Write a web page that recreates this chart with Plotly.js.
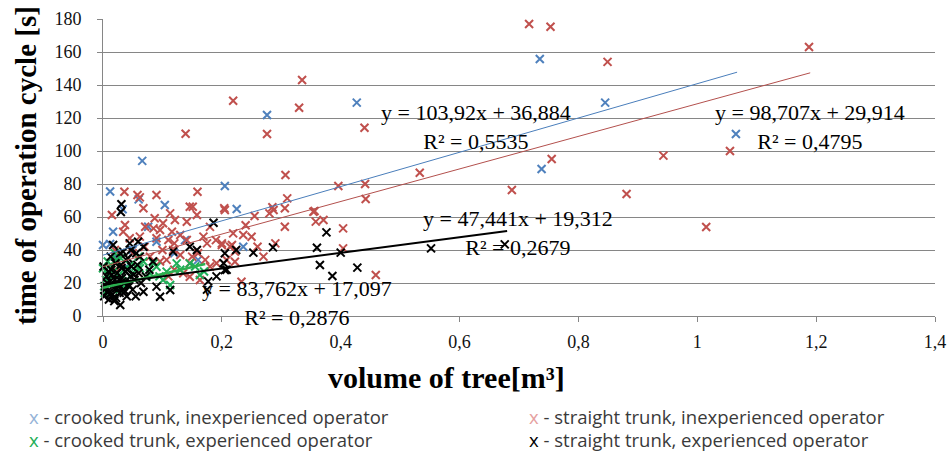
<!DOCTYPE html>
<html>
<head>
<meta charset="utf-8">
<script src="https://cdn.plot.ly/plotly-3.0.1.min.js"></script>
<style>html,body{margin:0;padding:0;background:#fff;}#chart{width:952px;height:452px;}</style>
</head>
<body>
<div id="chart"></div>
<script>
// crooked trunk, inexperienced operator (blue)
const blueX = [0.012,0.066,0.276,0.427,0.735,0.845,0.738,1.065,0.205,0.060,0.104,0.033,0.225,0.236,0.017,0.000,0.076,0.138,0.160,0.012,0.020,0.040,0.050,0.090,0.120];
const blueY = [75.5,94,121.8,129.3,155.8,129.3,89.1,110.3,78.8,70.7,67.3,64.7,64.8,42,51.1,43,54.1,46,34,43.6,36,30,40,45,38];

// straight trunk, inexperienced operator (red)
const redX = [0.139,0.219,0.276,0.335,0.330,0.307,0.440,0.533,0.717,0.753,0.849,0.755,0.943,1.188,1.055,0.881,1.015,0.688,0.459,0.404,0.404,0.442,0.441,0.396,0.354,0.358,0.371,0.306,0.306,0.310,0.285,0.204,0.255,0.280,0.287,0.356,0.233,0.219,0.236,0.200,0.217,0.208,0.222,
  0.036,0.058,0.062,0.090,0.159,0.151,0.015,0.037,0.068,0.087,0.113,0.101,0.121,0.146,0.158,0.141,0.071,0.085,0.205,0.096,0.116,0.130,0.034,0.045,0.062,0.090,0.110,0.141,0.169,0.175,0.200,0.214,0.222,0.118,0.130,0.079,0.096,0.107,0.146,0.172,0.191,0.135,0.146,0.163,
  0.020,0.050,0.070,0.100,0.160,0.180,0.120,0.030,0.060,0.260,0.270,0.250,0.180,0.240,0.290,0.020,0.110,0.150,0.120,0.190];
const redY = [110.5,130.5,110.3,143,126.2,85.5,114.1,86.8,177,175.3,154,95.2,97.2,163,100,73.9,53.9,76.4,24.8,53.1,41,70.9,80,78.8,63.2,57.2,58.2,54.1,65.3,71.3,65.9,65.3,60.6,62.2,64.2,63.6,20.8,50.1,49.1,44,43,33.9,32.9,
  75.3,73.3,71.9,73.3,75.3,66.2,61.2,55.2,65.3,59.2,62.2,56.2,58.2,66.2,61.2,57.1,54.1,53.1,64.2,52.1,51.1,49.1,51.1,47.1,48.1,47.1,46.1,46.1,48.1,44,43,42,39,40,37,36,33,34,32,34,32,25.9,23.8,21.8,
  40,38,42,40,38,30,28,30,26,42,36,48,54,55,44,28,24,36,44,46];

// crooked trunk, experienced operator (green)
const greenX = [0.000,0.023,0.012,0.045,0.062,0.079,0.090,0.107,0.124,0.146,0.163,0.085,0.101,0.113,0.073,0.002,0.005,0.008,0.010,0.015,0.018,0.022,0.025,0.030,0.035,0.040,0.050,0.055,0.060,0.003,0.028,0.038,0.068,0.095,0.130,0.155,0.170,0.008,0.020];
const greenY = [28.9,33.9,21.8,30.9,28.9,25.9,29.9,26.9,31.9,31.9,24.8,31.9,21.8,18.8,23.8,18,22,25,30,20,27,32,24,35,28,22,26,30,36,14,16,19,33,24,28,30,27,33,38];

// straight trunk, experienced operator (black)
const blackX = [0.552,0.676,0.376,0.360,0.400,0.365,0.386,0.428,0.286,0.253,0.224,0.205,0.186,0.031,0.205,0.203,0.208,0.191,0.177,0.175,0.096,0.029,0.068,0.090,0.113,0.017,0.034,0.059,0.118,0.146,0.158,0.030,
  0.002,0.004,0.006,0.008,0.010,0.012,0.014,0.016,0.018,0.020,0.022,0.024,0.026,0.028,0.030,0.032,0.034,0.036,0.038,0.040,0.042,0.044,0.046,0.048,0.050,0.053,0.056,0.060,0.064,0.068,0.072,0.078,0.084,0.003,0.007,0.011,0.015,0.019,0.023,0.027,0.031,0.035,0.039,0.043,0.047,0.052,0.058,0.001,0.009,0.013,0.017,0.021,0.025,0.029,0.033,0.037,0.041,0.045,0.055,0.062];
const blackY = [41,43.4,50.7,41.4,38.4,30.9,24.2,29.3,41.6,38.4,40,38,56.5,67.7,27.9,32,28,24,21,16,11.7,6.7,14.7,17.8,15.8,43,39,45,39,42,40,63,
  12,18,24,15,10,21,28,13,17,22,11,26,19,14,31,23,16,20,27,12,35,18,24,30,16,22,38,26,20,42,24,28,33,16,20,13,25,9,17,22,29,14,34,19,40,25,31,30,27,36,11,32,18,38,21,15,28,44,12,36];

// linear trendlines (as printed on the chart)
const trendNames = ['crooked trunk, inexperienced operator','straight trunk, inexperienced operator','crooked trunk, experienced operator','straight trunk, experienced operator'];
const trendSlope = [103.92, 98.707, 83.762, 47.441];
const trendIntercept = [36.884, 29.914, 17.097, 19.312];
const trendXMax = [1.067, 1.19, 0.172, 0.68];
const equationText = ['y = 103,92x + 36,884','y = 98,707x + 29,914','y = 83,762x + 17,097','y = 47,441x + 19,312'];
const r2Text = ['R² = 0,5535','R² = 0,4795','R² = 0,2876','R² = 0,2679'];

const yTicks = [0,20,40,60,80,100,120,140,160,180];
const xTicks = [0,0.2,0.4,0.6,0.8,1,1.2,1.4];

const markColors = ['#4F81BD','#C0504D','#1EAE57','#000000'];
const lineColors = ['#4A7EBB','#B3504D','#2BB04F','#000000'];
const lineWidths = [1,1,2.5,2];

const seriesX = [blueX, redX, greenX, blackX];
const seriesY = [blueY, redY, greenY, blackY];

const traces = [];
for (let i = 0; i < 4; i++) {
  traces.push({
    type: 'scatter', mode: 'markers', name: trendNames[i],
    x: seriesX[i], y: seriesY[i],
    marker: {symbol: 'x-thin', size: 8, line: {color: markColors[i], width: 2}},
    hoverinfo: 'x+y', cliponaxis: false
  });
}
for (let i = 0; i < 4; i++) {
  traces.push({
    type: 'scatter', mode: 'lines', showlegend: false,
    x: [0, trendXMax[i]],
    y: [trendIntercept[i], trendIntercept[i] + trendSlope[i] * trendXMax[i]],
    line: {color: lineColors[i], width: lineWidths[i]}, hoverinfo: 'skip'
  });
}

const serif = 'Liberation Serif, Times New Roman, serif';
const eqFont = {family: serif, size: 22, color: '#000'};
// [x centre, y centre] of each two-line equation label
const eqPos = [[0.628,114.8],[1.19,114.8],[0.326,7.6],[0.698,50.3]];
const annotations = [];
for (let i = 0; i < 4; i++) {
  annotations.push({xref:'x', yref:'y', x: eqPos[i][0], y: eqPos[i][1],
    text: equationText[i] + '<br>' + r2Text[i],
    showarrow:false, font: eqFont, xanchor:'center', yanchor:'middle', align:'center', borderpad:0});
}
// axis titles
annotations.push({xref:'paper', yref:'paper', x:(446-103)/832, y:(316-377)/297, text:'<b>volume of tree[m³]</b>', showarrow:false, font:{family:serif, size:30, color:'#000'}, xanchor:'center', yanchor:'middle'});
annotations.push({xref:'paper', yref:'paper', x:(26-103)/832, y:(316-166)/297, text:'<b>time of operation cycle [s]</b>', showarrow:false, textangle:-90, font:{family:serif, size:29, color:'#000'}, xanchor:'center', yanchor:'middle'});

// legend (text entries)
const legendMarkColors = ['#95B3D7','#E6A19F','#1EAE57','#000000'];
const legendPos = [[27,416],[527,416],[27,440],[527,440]];
const legFont = 'Open Sans, sans-serif';
for (let i = 0; i < 4; i++) {
  annotations.push({xref:'paper', yref:'paper', x:(legendPos[i][0]-103)/832, y:(316-legendPos[i][1])/297,
    text:'<span style="color:'+legendMarkColors[i]+'">x</span> - '+trendNames[i], showarrow:false,
    font:{family:legFont, size:18.5, color:'#3A3A3A'}, xanchor:'left', yanchor:'middle'});
}

const layout = {
  width: 952, height: 452,
  margin: {l:103, r:17, t:19, b:136, pad:0},
  paper_bgcolor:'#fff', plot_bgcolor:'#fff',
  showlegend:false,
  separators: ', ',
  xaxis: {range:[0,1.4], tickvals: xTicks, showgrid:false, zeroline:false, showline:true, linecolor:'#868686', linewidth:1,
    ticks:'outside', ticklen:5, tickcolor:'#868686', ticklabelstandoff:4, tickfont:{family:serif, size:18, color:'#111'}},
  yaxis: {range:[0,180], tickvals: yTicks, showgrid:true, gridcolor:'#868686', gridwidth:1, zeroline:false, showline:true, linecolor:'#868686', linewidth:1,
    ticks:'outside', ticklen:5, tickcolor:'#868686', ticklabelstandoff:12, tickfont:{family:serif, size:18, color:'#111'}},
  annotations: annotations
};

Plotly.newPlot('chart', traces, layout, {displayModeBar:false, staticPlot:true});
</script>
</body>
</html>
